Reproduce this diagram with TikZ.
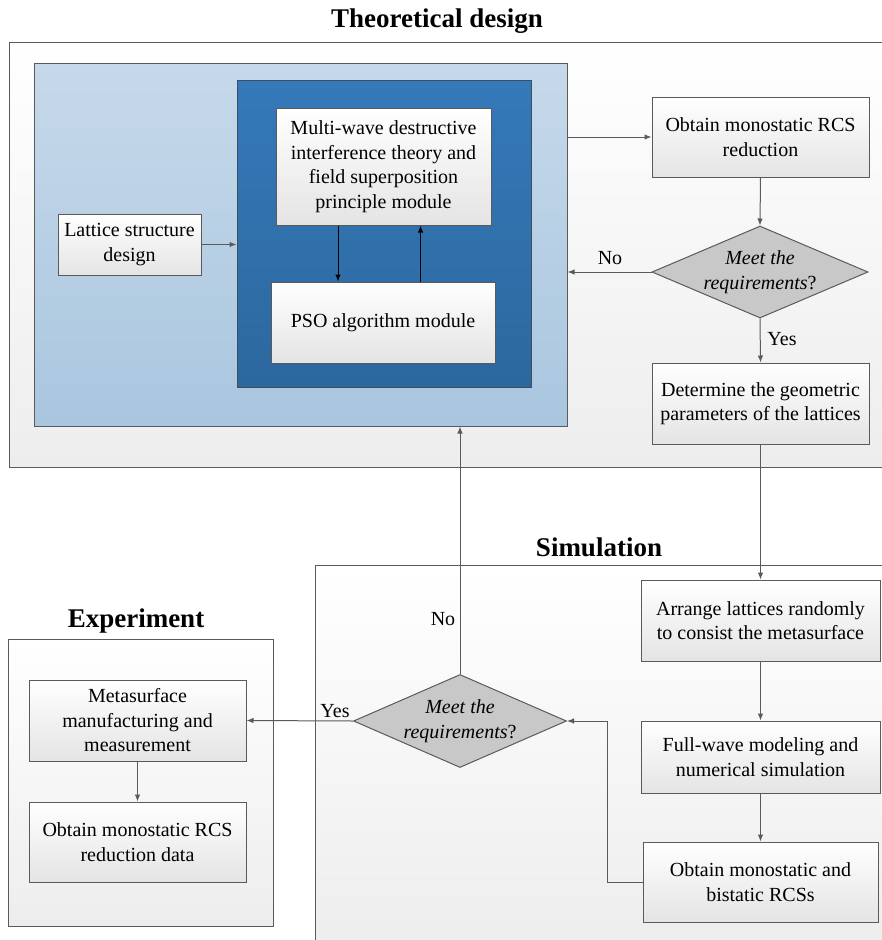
\documentclass[tikz,border=0pt]{standalone}
\usepackage{fontspec}
\setmainfont{Liberation Serif}
\usetikzlibrary{shapes.geometric,arrows.meta,calc}
\definecolor{ln}{HTML}{5A5A5A}
\definecolor{boxbot}{HTML}{E4E4E4}
\definecolor{framebot}{HTML}{EDEDED}
\definecolor{lbtop}{HTML}{C6D9EA}
\definecolor{lbbot}{HTML}{A9C6DF}
\definecolor{dbtop}{HTML}{3579B9}
\definecolor{dbbot}{HTML}{2C689E}
\definecolor{dbline}{HTML}{3D4E60}
\definecolor{diafill}{HTML}{C8C8C8}
\begin{document}
\begin{tikzpicture}[x=1pt,y=-1pt,
  every node/.style={font=\fontsize{20}{24.5}\selectfont},
  box/.style={draw=ln, line width=1pt, top color=white, bottom color=boxbot, align=center, inner sep=0pt},
  frame/.style={draw=ln, line width=1pt, top color=white, bottom color=framebot},
  dia/.style={diamond, draw=ln, line width=1pt, fill=diafill, inner sep=0pt},
  arr/.style={draw=ln, line width=1pt, -{Latex[length=7pt,width=5.5pt]}},
  barr/.style={draw=black, line width=1pt, -{Latex[length=7pt,width=5.5pt]}},
  title/.style={font=\fontsize{27}{32}\selectfont\bfseries, anchor=base},
  lbl/.style={inner sep=0pt}]
\useasboundingbox (0,0) rectangle (882,940);

% frames
\draw[frame] (9,42) rectangle (892,467);
\draw[frame] (315,565) rectangle (892,950);
\draw[frame] (8,639) rectangle (273,926);

% titles
\node[title] (t1) at (437,27) {Theoretical design};
\node[title] (t2) at (599,556) {Simulation};
\node[title] (t3) at (136,627) {Experiment};

% blue containers
\node[draw=ln, line width=1pt, top color=lbtop, bottom color=lbbot, minimum width=533pt, minimum height=363pt, inner sep=0pt] (lb) at (300.5,244.5) {};
\node[draw=dbline, line width=1pt, top color=dbtop, bottom color=dbbot, minimum width=294pt, minimum height=307pt, inner sep=0pt] (db) at (384,233.5) {};

% boxes
\node[box, minimum width=215pt, minimum height=117pt] (multi) at (383.5,166.5)
  {Multi-wave destructive\\interference theory and\\field superposition\\principle module};
\node[box, minimum width=224pt, minimum height=81pt] (pso) at (383,322.5) {PSO algorithm module};
\node[box, minimum width=143pt, minimum height=61pt] (lat) at (129.5,244.5) {Lattice structure\\design};
\node[box, minimum width=217pt, minimum height=80pt] (ob1) at (760.5,137) {Obtain monostatic RCS\\reduction};
\node[dia, minimum width=216pt, minimum height=92pt] (d1) at (760,272) {};
\node[lbl, align=center] (d1t) at (760,272) {\textit{Meet the}\\\textit{requirements}?};
\node[box, minimum width=217pt, minimum height=81pt] (det) at (760.5,403.5) {Determine the geometric\\parameters of the lattices};

\node[box, minimum width=239pt, minimum height=81pt] (arr1) at (760.5,620.5) {Arrange lattices randomly\\to consist the metasurface};
\node[box, minimum width=239pt, minimum height=72pt] (fw) at (760.5,757) {Full-wave modeling and\\numerical simulation};
\node[box, minimum width=235pt, minimum height=80pt] (bi) at (760.5,882) {Obtain monostatic and\\bistatic RCSs};
\node[dia, minimum width=213pt, minimum height=93pt] (d2) at (460,721) {};
\node[lbl, align=center] (d2t) at (460,721) {\textit{Meet the}\\\textit{requirements}?};

\node[box, minimum width=217pt, minimum height=81pt] (meta) at (137.5,720.5) {Metasurface\\manufacturing and\\measurement};
\node[box, minimum width=217pt, minimum height=80pt] (data) at (137.5,842) {Obtain monostatic RCS\\reduction data};

% connectors
\draw[arr] (lat.east) -- (lat.east -| db.west);
\draw[barr] ([xshift=-45.5pt]multi.south) -- ([xshift=-45.5pt]multi.south |- pso.north);
\draw[barr] ([xshift=37.5pt]pso.north) -- ([xshift=37.5pt]pso.north |- multi.south);
\draw[arr] (ob1.west -| lb.east) -- (ob1.west);
\draw[arr] (ob1.south) -- (d1.north);
\draw[arr] (d1.west) -- (d1.west -| lb.east);
\draw[arr] (d1.south) -- (det.north);
\draw[arr] (det.south) -- (arr1.north);
\draw[arr] (arr1.south) -- (fw.north);
\draw[arr] (fw.south) -- (bi.north);
\coordinate (rt) at (607,721);
\draw[arr] (bi.west) -| (rt) -- (d2.east);
\draw[arr] (d2.north) -- (d2.north |- lb.south);
\draw[arr] (d2.west) -- (meta.east);
\draw[arr] (meta.south) -- (data.north);

% labels
\node[lbl] (no1) at (610,258) {No};
\node[lbl] (yes1) at (782,339) {Yes};
\node[lbl] (no2) at (443,619) {No};
\node[lbl] (yes2) at (335,711) {Yes};
\end{tikzpicture}
\end{document}
